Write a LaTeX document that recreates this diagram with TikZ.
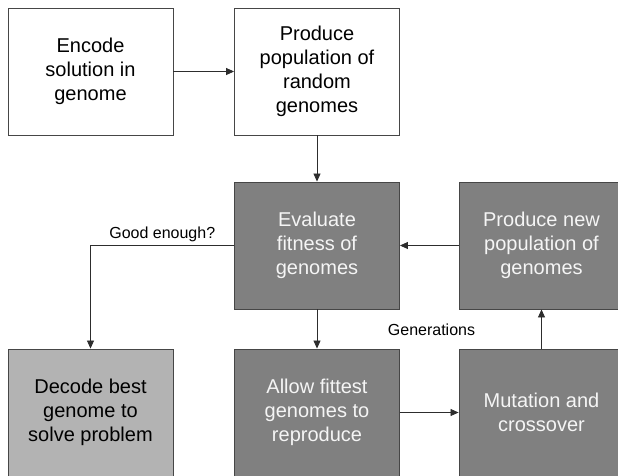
\documentclass[tikz,border=0pt]{standalone}
\usepackage{fontspec}
\setmainfont{Liberation Sans}
\usetikzlibrary{arrows.meta}
\definecolor{dk}{RGB}{128,128,128}
\definecolor{lt}{RGB}{179,179,179}
\definecolor{edge}{RGB}{70,70,70}
\definecolor{arr}{RGB}{45,45,45}
\definecolor{wtext}{RGB}{245,245,245}
\begin{document}
\begin{tikzpicture}[x=1pt,y=-1pt,
  box/.style={draw=edge, line width=0.9pt, minimum width=165pt, minimum height=127pt,
    inner sep=0pt, align=center, font=\fontsize{20}{24}\selectfont},
  whitebox/.style={box, fill=white, text=black},
  darkbox/.style={box, fill=dk, text=wtext},
  lightbox/.style={box, fill=lt, text=black},
  conn/.style={draw=arr, line width=0.8pt, -{Triangle[length=8pt,width=7pt]}},
  lbl/.style={font=\fontsize{16}{19}\selectfont, text=black, inner sep=1pt}]
\useasboundingbox (0,0) rectangle (618,475);
\clip (0,0) rectangle (618,475);
\node[whitebox] (b1) at (90.5,71.5) {Encode\\solution in\\genome};
\node[whitebox] (b2) at (317,71.5) {Produce\\population of\\random\\genomes};
\node[darkbox] (b3) at (317,245.5) {Evaluate\\fitness of\\genomes};
\node[darkbox] (b4) at (541.5,245.5) {Produce new\\population of\\genomes};
\node[lightbox] (b5) at (90.5,412.5) {Decode best\\genome to\\solve problem};
\node[darkbox] (b6) at (317,412.5) {Allow fittest\\genomes to\\reproduce};
\node[darkbox] (b7) at (541.5,412.5) {Mutation and\\crossover};
\draw[conn] (b1) -- (b2);
\draw[conn] (b2) -- (b3);
\draw[conn] (b4) -- (b3);
\draw[conn] (b3) -- (b6);
\draw[conn] (b6) -- (b7);
\draw[conn] (b7) -- (b4);
\draw[conn] (b3.west) -- node[lbl, above=2pt] (ge) {Good enough?} (b3.west -| b5.north) -- (b5.north);
\node[lbl] (gen) at (431.5,330) {Generations};
\end{tikzpicture}
\end{document}
